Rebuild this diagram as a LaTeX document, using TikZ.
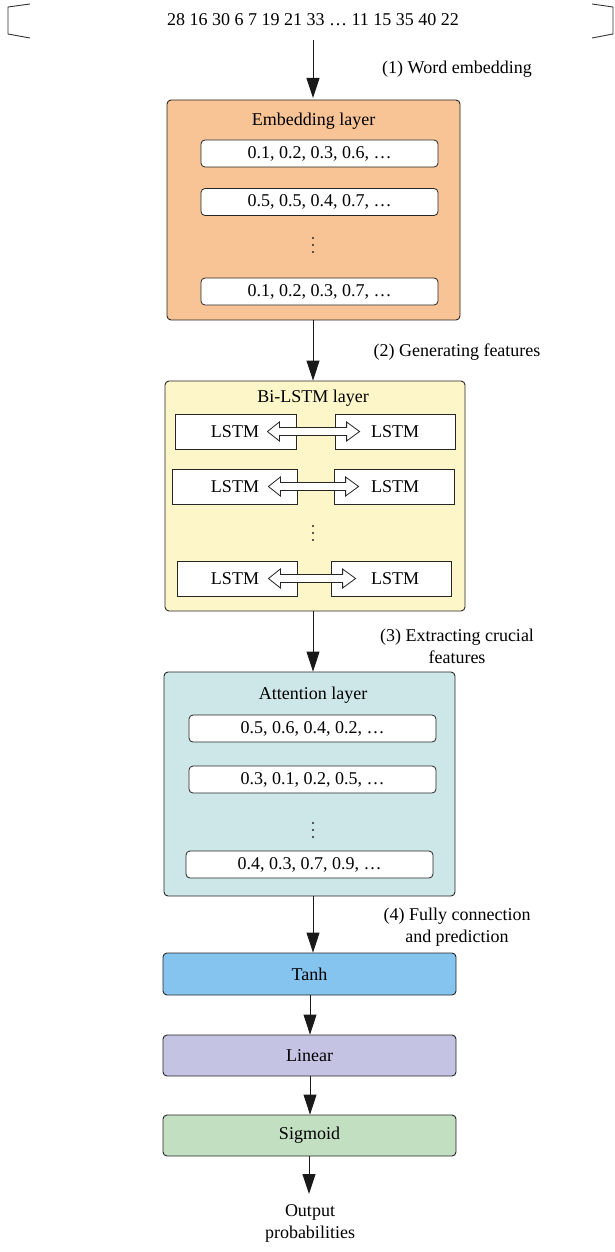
\documentclass[tikz,border=0pt]{standalone}
\usepackage{fontspec}
\setmainfont{Liberation Serif}
\usetikzlibrary{arrows.meta, positioning, calc}

\definecolor{embedfill}{HTML}{F8C496}
\definecolor{bilstmfill}{HTML}{FDF6C8}
\definecolor{attnfill}{HTML}{CDE6E8}
\definecolor{tanhfill}{HTML}{85C4EE}
\definecolor{linearfill}{HTML}{C5C3E3}
\definecolor{sigmfill}{HTML}{C2DFC2}

\begin{document}
\begin{tikzpicture}[x=1pt, y=-1pt, >={Triangle[length=20pt, width=13pt]},
  font=\fontsize{18}{22}\selectfont,
  layer/.style={draw=black!85, line width=0.9pt, rounded corners=4pt,
    inner sep=0pt},
  vecbox/.style={draw=black!85, line width=0.8pt, fill=white,
    rounded corners=4pt, minimum width=237pt, minimum height=27pt,
    inner sep=0pt},
  lstmbox/.style={draw=black!85, line width=0.8pt, fill=white,
    minimum height=35pt, inner sep=0pt},
  stepnote/.style={align=center, inner sep=0pt},
  flow/.style={->, line width=1pt, black!90}]
  \useasboundingbox (0,0) rectangle (614,1252);

  % Input sequence
  \draw[line width=0.9pt, black!80] (30,4) -- (8,7) -- (8,34) -- (30,38);
  \draw[line width=0.9pt, black!80] (592,4) -- (613,7) -- (613,34) -- (592,38);
  \node (seq) at (313,20) {28 16 30 6 7 19 21 33 \dots\ 11 15 35 40 22};

  % Embedding layer
  \node[layer, fill=embedfill, minimum width=293pt, minimum height=220pt]
    (embed) at (313.5,210) {};
  \node (embedtitle) at (313.5,121) {Embedding layer};
  \node[vecbox] (e1) at (319.5,153.5) {0.1, 0.2, 0.3, 0.6, \dots};
  \node[vecbox] (e2) at (319.5,202) {0.5, 0.5, 0.4, 0.7, \dots};
  \node[vecbox] (e3) at (319.5,291.5) {0.1, 0.2, 0.3, 0.7, \dots};

  % Bi-LSTM layer
  \node[layer, fill=bilstmfill, minimum width=300pt, minimum height=230pt]
    (bilstm) at (315,496) {};
  \node (bilstmtitle) at (313,398) {Bi-LSTM layer};
  \foreach \n/\y/\la/\lb/\ra/\rb in {1/431.5/175/296/335/455,
      2/486.5/172/297/334/454, 3/578.5/177/297/331/451}{
    \node[lstmbox, minimum width=\lb-\la] (fw\n) at ({(\la+\lb)/2},\y) {};
    \node[lstmbox, minimum width=\rb-\ra] (bw\n) at ({(\ra+\rb)/2},\y) {};
    \node (fwt\n) at (235,\y) {LSTM};
    \node (bwt\n) at (395,\y) {LSTM};
    \draw[line width=0.8pt, black!85, fill=white]
      ($(fw\n.east)+(-29,0)$) -- ++(12,-9.5) -- ++(0,5.5)
      -- ($(bw\n.west)+(12,-4)$) -- ++(0,-5.5) -- ($(bw\n.west)+(25,0)$)
      -- ($(bw\n.west)+(12,9.5)$) -- ++(0,-5.5)
      -- ($(fw\n.east)+(-17,4)$) -- ++(0,5.5) -- cycle;
  }

  % Attention layer
  \node[layer, fill=attnfill, minimum width=291pt, minimum height=224pt]
    (attn) at (309.5,784) {};
  \node (attntitle) at (313,695) {Attention layer};
  \node[vecbox, minimum width=247pt] (a1) at (312.5,728.5) {0.5, 0.6, 0.4, 0.2, \dots};
  \node[vecbox, minimum width=247pt] (a2) at (312.5,779.5) {0.3, 0.1, 0.2, 0.5, \dots};
  \node[vecbox, minimum width=247pt] (a3) at (309.5,864.5) {0.4, 0.3, 0.7, 0.9, \dots};

  % Vertical dots
  \foreach \yc in {245,533,830}{
    \foreach \d in {-7,0,7}{
      \fill[black!85] (313,\yc+\d) circle (1.2);
    }
  }

  % Output layers
  \node[layer, fill=tanhfill, minimum width=293pt, minimum height=42pt]
    (tanh) at (309.5,974) {Tanh};
  \node[layer, fill=linearfill, minimum width=293pt, minimum height=41pt]
    (linear) at (309.5,1055.5) {Linear};
  \node[layer, fill=sigmfill, minimum width=293pt, minimum height=41pt]
    (sigm) at (309.5,1135.5) {Sigmoid};
  \node[stepnote] (out) at (310,1223) {Output\\probabilities};

  % Flow arrows
  \draw[flow] (seq.south -| 313,0) ++(0,10) -- (313,98);
  \draw[flow] (embed.south -| 313,0) -- (bilstm.north -| 313,0);
  \draw[flow] (bilstm.south -| 313,0) -- (attn.north -| 313,0);
  \draw[flow] (attn.south -| 313,0) -- (tanh.north -| 313,0);
  \draw[flow] (tanh.south -| 310,0) -- (linear.north -| 310,0);
  \draw[flow] (linear.south -| 310,0) -- (sigm.north -| 310,0);
  \draw[flow] (sigm.south -| 309,0) -- (309,1194);

  % Step notes
  \node[stepnote] (n1) at (457,69) {(1) Word embedding};
  \node[stepnote] (n2) at (457,352) {(2) Generating features};
  \node[stepnote] (n3) at (457,646) {(3) Extracting crucial\\features};
  \node[stepnote] (n4) at (457,927) {(4) Fully connection\\and prediction};
\end{tikzpicture}
\end{document}
